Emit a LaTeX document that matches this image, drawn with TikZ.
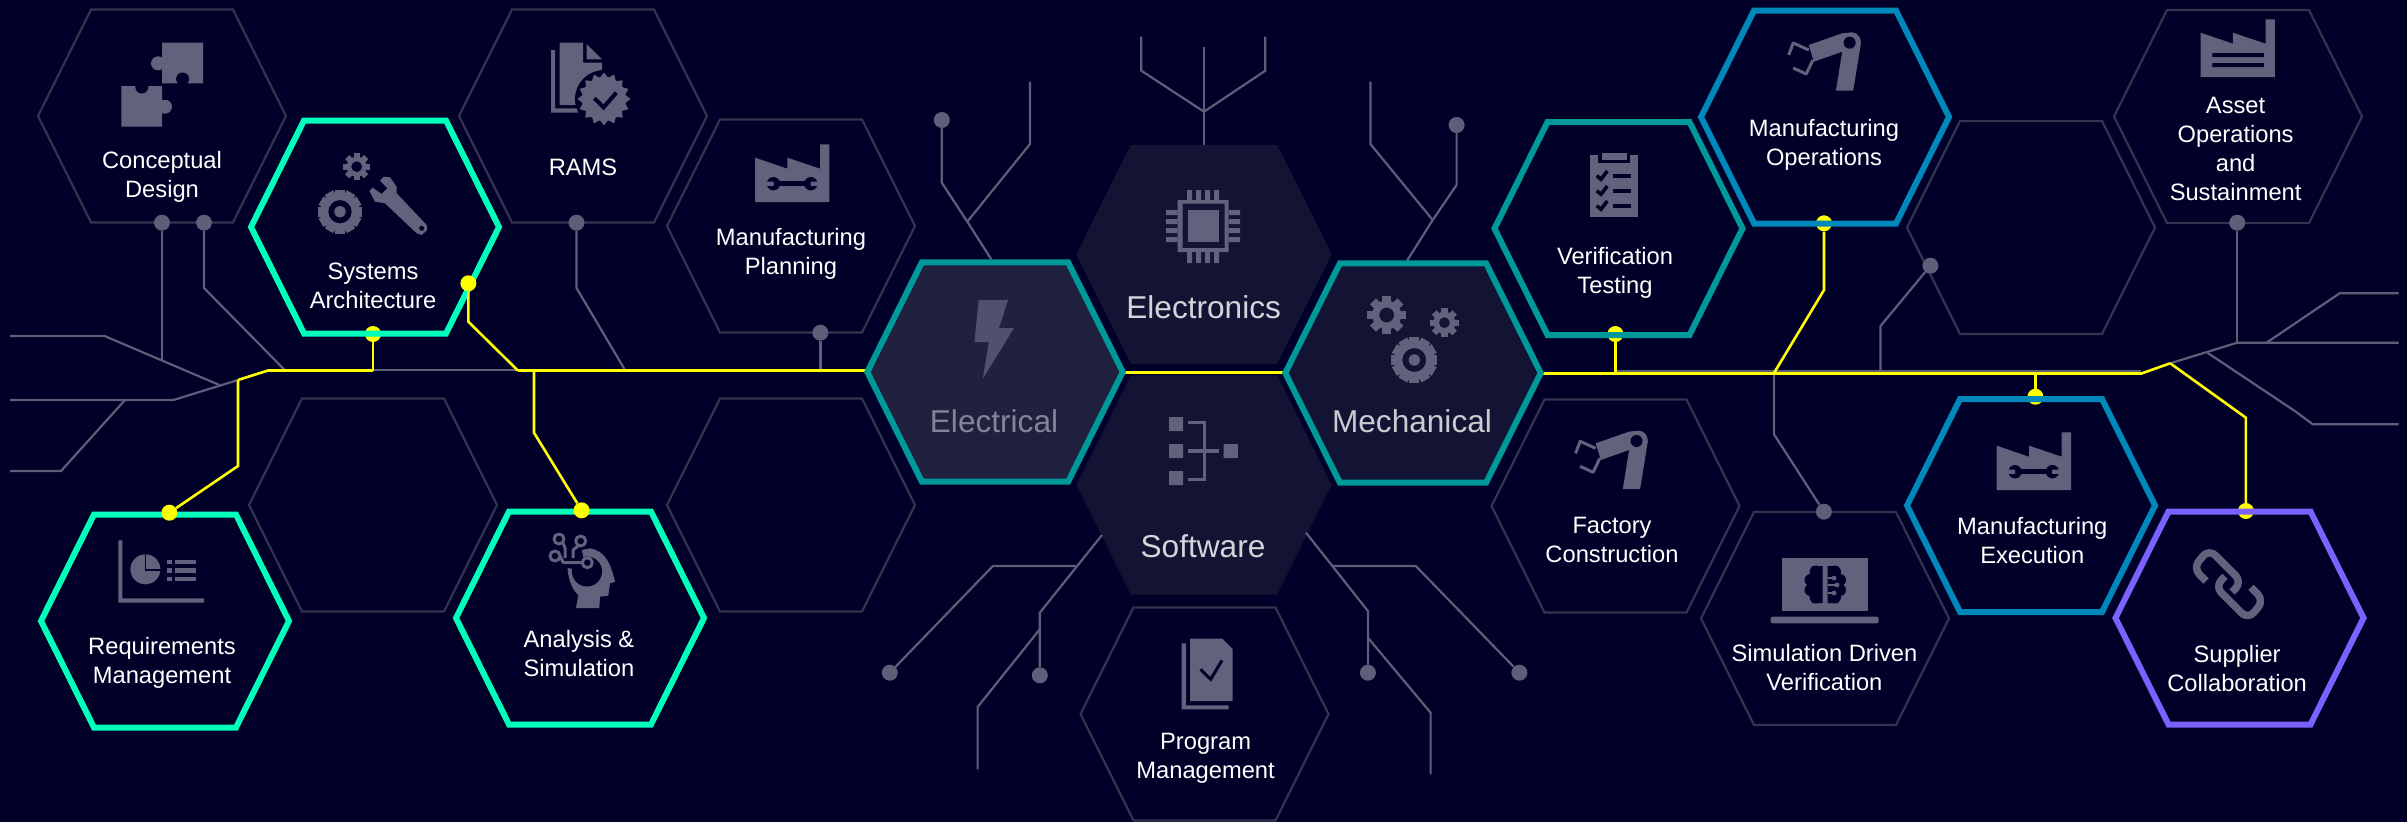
\documentclass[tikz,border=0pt]{standalone}
\usepackage{fontspec}
\setmainfont{Liberation Sans}

\definecolor{navybg}{HTML}{000028}
\definecolor{hexgray}{HTML}{34344F}
\definecolor{tracegray}{HTML}{5E5E78}
\definecolor{iconfill}{HTML}{62627D}
\definecolor{busyellow}{HTML}{FFFF00}
\definecolor{ringgreen}{HTML}{00FFBB}
\definecolor{ringteal}{HTML}{009999}
\definecolor{ringblue}{HTML}{0088BB}
\definecolor{ringpurple}{HTML}{7B61FF}
\definecolor{cellfill}{HTML}{131333}
\definecolor{cellbright}{HTML}{20203F}

\tikzset{
  hexcell/.pic={\path[pic actions] (-124,0) -- (-71,-106.5) -- (71,-106.5) -- (124,0) -- (71,106.5) -- (-71,106.5) -- cycle;},
  hexdim/.style={draw=hexgray, line width=2.2pt},
  hexring/.style={draw=#1, line width=6pt},
  trace/.style={draw=tracegray, line width=2.2pt},
  bus/.style={draw=busyellow, line width=2.6pt},
  pingray/.style={circle, fill=tracegray, inner sep=0pt, minimum size=16pt},
  pinbus/.style={circle, fill=busyellow, inner sep=0pt, minimum size=16pt},
  cellname/.style={text=white, align=center, font=\fontsize{23.7}{29}\selectfont},
  domainname/.style={align=center, font=\fontsize{31.6}{36}\selectfont},
  icon/.style={fill=iconfill},
  iconline/.style={draw=iconfill, line join=round},
  factorybody/.pic={\fill[icon] (0,0) -- (74.3,0) -- (74.3,-57.7) -- (65,-57.7) -- (65,-33.3) -- (32.3,-44.3) -- (32.3,-33.3) -- (0,-44.3) -- cycle;},
  factorywrench/.pic={
    \draw[navybg, line width=5pt] (18.3,-18.3) -- (55.7,-18.3);
    \fill[navybg] (18.3,-18.3) circle (6.7pt) (55.7,-18.3) circle (6.7pt);
    \fill[icon] (11,-20.5) rectangle (18.5,-16.1) (55.5,-20.5) rectangle (63,-16.1);
  },
  robotarm/.pic={
    \fill[icon] (-17.3,0) -- (0,0) -- (7.7,-47.4) .. controls (8,-52) and (5,-58) .. (-1,-58.4) -- (-11,-57.4) -- (-44.4,-45.7) -- (-39.3,-29) -- (-11,-39) -- cycle;
    \fill[navybg] (-3.6,-48) circle (6pt);
    \draw[iconline, line width=3pt] (-44.4,-40.7) -- (-60,-47.7) -- (-64.5,-35.7);
    \draw[iconline, line width=3pt] (-40.3,-30.7) -- (-47,-16.7) -- (-60,-22.7);
  },
}

% gear: x, y, tooth radius, body radius, hole radius, number of teeth
\newcommand{\cogwheel}[6]{
  \pgfmathsetmacro{\cogstep}{360/#6}
  \foreach \k in {1,...,#6}
    \fill[icon, shift={(#1,#2)}, rotate=\k*\cogstep] (-#3*0.22,#4-1) rectangle (#3*0.22,#3);
  \fill[icon, even odd rule] (#1,#2) circle (#4pt) circle (#5pt);
}

\begin{document}
\begin{tikzpicture}[x=1pt, y=-1pt]

\useasboundingbox (0,0) rectangle (2407,822);
\fill[navybg] (0,0) rectangle (2407,822);

\pic[hexdim] at (162,116) {hexcell};
\pic[hexdim] at (583,116) {hexcell};
\pic[hexdim] at (791,226) {hexcell};
\pic[hexdim] at (373,505) {hexcell};
\pic[hexdim] at (791,505) {hexcell};
\pic[hexdim] at (1204.5,714) {hexcell};
\pic[hexdim] at (1615.5,506) {hexcell};
\pic[hexdim] at (2031,227.5) {hexcell};
\pic[hexdim] at (2238,116.5) {hexcell};
\pic[hexdim] at (1825,618.5) {hexcell};

% middle block
\pic[fill=cellfill, scale=1.03] at (1204,254.5) {hexcell};
\pic[fill=cellfill, scale=1.03] at (1204,485) {hexcell};
\pic[draw=navybg, line width=15pt, scale=1.03] at (995,372) {hexcell};
\pic[draw=navybg, line width=15pt, scale=1.03] at (1413,373) {hexcell};

% gray wiring
\node[pingray] (pinConceptA) at (162,222.7) {};
\node[pingray] (pinConceptB) at (204,222.7) {};
\node[pingray] (pinRams) at (576.5,222.7) {};
\node[pingray] (pinPlanning) at (820.4,332.7) {};
\node[pingray] (pinElecL) at (941.8,120) {};
\node[pingray] (pinMechR) at (1456.6,125) {};
\node[pingray] (pinSoftA) at (1039.8,675.3) {};
\node[pingray] (pinSoftB) at (889.8,672.7) {};
\node[pingray] (pinSoftC) at (1367.9,672.7) {};
\node[pingray] (pinSoftD) at (1519.4,672.7) {};
\node[pingray] (pinSimDriven) at (1823.9,511.7) {};
\node[pingray] (pinFloat) at (1930.4,265.7) {};
\node[pingray] (pinAsset) at (2237.2,222.7) {};

\coordinate (stemA) at (162,360);
\coordinate (busRams) at (625,370);
\coordinate (busConcept) at (284.7,370);
\coordinate (busPlanning) at (820.4,370.7);
\coordinate (elecTop) at (991.3,259.3);
\coordinate (elecFork) at (967.3,221.7);
\coordinate (midTop) at (1204,145);
\coordinate (midFork) at (1204,111.7);
\coordinate (mechTop) at (1407,260.7);
\coordinate (mechFork) at (1432.7,220);
\coordinate (softL) at (1102,535);
\coordinate (softLsplit) at (1039.8,629.3);
\coordinate (softR) at (1306,532.7);
\coordinate (softRsplit) at (1367.9,637.7);
\coordinate (busOps) at (1774,373);
\coordinate (rightHub) at (2237.2,342.7);
\coordinate (rightSplit) at (2266.5,342.7);
\coordinate (rightLow) at (2207.3,352.7);
\coordinate (busEnd) at (2170.2,363.3);

\draw[trace] (pinConceptA) -- (stemA);
\draw[trace] (pinConceptB) -- (204,288) -- (busConcept);
\draw[trace] (10,336) -- (104.6,336) -- (219.4,385);
\draw[trace] (10,400) -- (173.5,400) -- (238,380);
\draw[trace] (125,400) -- (61,471) -- (10,471);
\draw[trace] (373,370) -- (518,370);
\draw[trace] (pinRams) -- (576.5,288) -- (busRams);
\draw[trace] (pinPlanning) -- (busPlanning);

\draw[trace] (elecTop) -- (elecFork) -- (941.8,182.7) -- (pinElecL);
\draw[trace] (elecFork) -- (1030,144) -- (1030,81.7);
\draw[trace] (midTop) -- (1204,46.7);
\draw[trace] (midFork) -- (1141.3,70.7) -- (1141.3,36.7);
\draw[trace] (midFork) -- (1265.3,70.7) -- (1265.3,36.7);
\draw[trace] (mechTop) -- (mechFork) -- (1456.6,185) -- (pinMechR);
\draw[trace] (mechFork) -- (1370.4,144) -- (1370.4,81.7);

\draw[trace] (softL) -- (1039.8,612.7) -- (pinSoftA);
\draw[trace] (1075.5,566) -- (992.9,566) -- (pinSoftB);
\draw[trace] (softLsplit) -- (977.6,707) -- (977.6,769.3);
\draw[trace] (softR) -- (1367.9,611) -- (pinSoftC);
\draw[trace] (1333,566) -- (1415.8,566) -- (pinSoftD);
\draw[trace] (softRsplit) -- (1430.6,712.7) -- (1430.6,774.3);

\draw[trace] (1615,371.5) -- (2141,371.5);
\draw[trace] (busOps) -- (1774,434.3) -- (pinSimDriven);
\draw[trace] (1880.5,372) -- (1880.5,326) -- (pinFloat);
\draw[trace] (pinAsset) -- (rightHub);
\draw[trace] (busEnd) -- (rightHub) -- (2398.7,342.7);
\draw[trace] (rightSplit) -- (2339.6,293.3) -- (2398.7,293.3);
\draw[trace] (rightLow) -- (2294.8,411) -- (2312.8,424.3) -- (2398.7,424.3);

% yellow bus, then the rings, some pins sit under them
\node[pinbus] (pinSystems) at (373,334) {};
\node[pinbus] (pinVerif) at (1615.4,334) {};
\node[pinbus] (pinOps) at (1824,223.3) {};
\node[pinbus] (pinExec) at (2035.4,396.7) {};
\node[pinbus] (pinSupplier) at (2245.9,511) {};

\coordinate (busLeft) at (238,380);
\coordinate (busSplit) at (268,370.5);
\coordinate (busTap) at (373,370.5);
\coordinate (busRight) at (518,370.7);
\coordinate (busAnalysis) at (534,370.7);
\coordinate (busElec) at (866,370.7);
\coordinate (busElecR) at (1125,372.7);
\coordinate (busMechL) at (1285,372.7);
\coordinate (busMechR) at (1541,373.5);
\coordinate (busVerif) at (1615.4,373.5);
\coordinate (busExec) at (2035.4,373.5);

\draw[bus] (busLeft) -- (busSplit) -- (busTap);
\draw[bus] (busTap) -- (pinSystems);
\draw[bus] (busRight) -- (busElec);
\draw[bus] (busElecR) -- (busMechL);
\draw[bus] (busMechR) -- (2141.4,373.5) -- (busEnd);
\draw[bus] (busVerif) -- (pinVerif);
\draw[bus] (busOps) -- (1824,290) -- (pinOps);
\draw[bus] (busExec) -- (pinExec);
\draw[bus] (busEnd) -- (2245.9,417.7) -- (pinSupplier);

\pic[hexring=ringgreen] at (375,227) {hexcell};
\pic[hexring=ringgreen] at (165,621) {hexcell};
\pic[hexring=ringgreen] at (580,618) {hexcell};
\pic[hexring=ringteal] at (1618.5,228.5) {hexcell};
\pic[hexring=ringblue] at (1825,117) {hexcell};
\pic[hexring=ringblue] at (2031,505.5) {hexcell};
\pic[hexring=ringpurple] at (2239.5,618) {hexcell};
\pic[fill=cellbright, draw=ringteal, line width=6pt, scale=1.03] at (995,372) {hexcell};
\pic[fill=cellfill, draw=ringteal, line width=6pt, scale=1.03] at (1413,373) {hexcell};

\node[pinbus] (pinSysRight) at (468.4,283.3) {};
\node[pinbus] (pinReq) at (169.4,512.7) {};
\node[pinbus] (pinAnalysis) at (581.6,510.3) {};
\draw[bus] (busRight) -- (468.4,321.7) -- (pinSysRight);
\draw[bus] (busLeft) -- (238,466) -- (pinReq);
\draw[bus] (busAnalysis) -- (534,432.7) -- (pinAnalysis);

% puzzle
\fill[icon] (162,42.7) rectangle (203,83.3) (158,63.3) circle (7pt);
\fill[navybg] (182.6,79) circle (6.5pt);
\fill[icon] (121.4,86) rectangle (162,126.7) (165,106.7) circle (7pt);
\fill[navybg] (141.8,87) circle (6.5pt);

% document with badge
\fill[icon] (559.7,42.7) -- (583,42.7) -- (583,62.5) -- (602,62.5) -- (602,105) -- (559.7,105) -- cycle;
\fill[icon] (586.7,44) -- (602,59.3) -- (586.7,59.3) -- cycle;
\fill[icon] (551,50) -- (555,50) -- (555,108.3) -- (579,108.3) -- (579,112.7) -- (551,112.7) -- cycle;
\fill[navybg] (604,99) circle (29pt);
\fill[icon] (604,99) circle (22pt);
\foreach \k in {0,22.5,...,337.5}
  \fill[icon, shift={(604,99)}, rotate=\k] (-5,-20) -- (0,-26.5) -- (5,-20) -- cycle;
\draw[navybg, line width=4pt] (594.4,98.3) -- (603.6,107.3) -- (616.3,92.7);

% gears and spanner
\cogwheel{356.7}{166.7}{13.5}{10}{5.5}{8}
\cogwheel{340}{211.7}{22}{16.7}{11.7}{12}
\fill[icon] (340,211.7) circle (5.7pt);
\fill[icon] (369.3,191) -- (372.7,187.7) -- (381.7,194) -- (387.3,188.3) -- (380,180.7) -- (384,176.7) -- (390,177.3) -- (396.7,186.7) -- (396.7,193.3) -- (426.7,225) -- (427.3,230) -- (421.7,235) -- (416.7,233.3) -- (385,203.3) -- (375,201.7) -- cycle;
\fill[navybg] (421.7,228.3) circle (2.5pt);

% factories
\pic at (755.1,202) {factorybody};
\pic at (755.1,202) {factorywrench};
\pic at (1996.7,490) {factorybody};
\pic at (1996.7,490) {factorywrench};
\pic at (2200.6,77) {factorybody};
\fill[navybg] (2212.4,53) rectangle (2263.9,57) (2212.4,63) rectangle (2263.9,67);

% chart and list
\fill[icon] (118.4,540.3) -- (122.4,540.3) -- (122.4,598.3) -- (204,598.3) -- (204,602.7) -- (118.4,602.7) -- cycle;
\fill[icon] (145.4,569.3) circle (15pt);
\draw[navybg, line width=1.5pt] (145.4,553) -- (145.4,570) -- (162,570);
\foreach \k in {562,570.5,578.8}{
  \fill[icon] (167.3,\k-2.2) rectangle (172.4,\k+2.2);
  \fill[icon] (174.5,\k-2.2) rectangle (196.4,\k+2.2);
}

% head
\fill[icon] (576,608) -- (599.3,608) -- (600,596.7) -- (608.3,595.7) -- (610,583.3) -- (615,581.7) .. controls (611,565) and (606,551) .. (590,548.3) -- (581.7,550) -- (587,571.5) -- (567.5,568) .. controls (568,578) and (572,590) .. (578.3,595) -- cycle;
\fill[navybg] (587,571.5) circle (15pt);
\draw[iconline, line width=3pt] (559,539) circle (5pt) (580.7,541) circle (5pt) (555,556) circle (5pt) (587.3,562.7) circle (5pt);
\draw[iconline, line width=3pt] (563,543) -- (565,548) -- (565,558);
\draw[iconline, line width=3pt] (578,546) -- (573,550) -- (573,558);
\draw[iconline, line width=3pt] (560,556) -- (563.3,562.7) -- (582,562.7);

% bolt
\fill[fill=iconfill!75!cellbright] (978.6,300) -- (1008,300) -- (999,328) -- (1014,328) -- (982.7,379) -- (988.8,342) -- (974.5,342) -- cycle;

% chip
\fill[icon, even odd rule] (1177.5,200) rectangle (1228.6,252) (1182.7,203.5) rectangle (1224.5,248);
\fill[icon] (1187.8,210) rectangle (1219.4,242);
\foreach \k in {1189.5,1198.5,1207.5,1216.5}
  \fill[icon] (\k-2.5,190) rectangle (\k+2.5,200) (\k-2.5,252) rectangle (\k+2.5,263);
\foreach \k in {212.5,221.5,230.5,239.5}
  \fill[icon] (1166,\k-2.5) rectangle (1177.5,\k+2.5) (1228.6,\k-2.5) rectangle (1240,\k+2.5);

% tree
\fill[icon] (1169,417) rectangle (1183,431) (1169,444) rectangle (1183,458) (1169,471) rectangle (1183,485) (1223.5,444) rectangle (1237.8,458);
\draw[iconline, line width=3.5pt, line join=miter] (1187.8,422.7) -- (1204.6,422.7) -- (1204.6,479.3) -- (1187.8,479.3);
\draw[iconline, line width=3.5pt] (1187.8,451) -- (1219.4,451);

% gears of the mechanical cell
\cogwheel{1386.7}{315}{19.4}{14.5}{7.5}{8}
\cogwheel{1444.4}{322.7}{14.5}{11}{5.5}{8}
\cogwheel{1414.3}{360}{23}{17.5}{12}{12}
\fill[icon] (1414.3,360) circle (5.7pt);

% program document
\fill[icon] (1190,638.7) -- (1222.4,638.7) -- (1232.7,649) -- (1232.7,701) -- (1190,701) -- cycle;
\fill[icon] (1181.6,643.3) -- (1186,643.3) -- (1186,705.3) -- (1228.6,705.3) -- (1228.6,709.3) -- (1181.6,709.3) -- cycle;
\draw[navybg, line width=3pt] (1200.5,669.3) -- (1210.7,679.3) -- (1222,660.3);

% clipboard
\fill[icon] (1590,155) rectangle (1637.7,216.7);
\fill[navybg] (1598.3,152) rectangle (1630,163.3);
\fill[icon] (1601.7,153.3) rectangle (1626.7,160);
\foreach \k in {0,15,30}{
  \draw[navybg, line width=3.5pt] (1596.7,175.7+\k) -- (1601,179.3+\k) -- (1607.3,171+\k);
  \fill[navybg] (1613.3,174.3+\k) rectangle (1631,178.3+\k);
}

% robot arms
\pic at (1853.2,90.7) {robotarm};
\pic at (1640.1,489) {robotarm};

% laptop and brain
\fill[icon] (1781.7,557.7) rectangle (1867.7,611);
\fill[icon, rounded corners=2pt] (1770.7,616.7) rectangle (1878.7,623.3);
\fill[navybg] (1812,566) rectangle (1822.7,603) (1816,572) circle (6.5pt) (1810.5,580) circle (6pt) (1810.5,590) circle (6pt) (1816,597) circle (6.5pt);
\fill[navybg] (1827.7,566) rectangle (1838,603) (1834.5,572) circle (6.5pt) (1840,580) circle (6pt) (1840,590) circle (6pt) (1834.5,597) circle (6.5pt);
\draw[iconline, line width=1.6pt] (1827.7,578) -- (1834,578) (1827.7,585) -- (1837,585) (1827.7,593) -- (1834,593);
\fill[icon] (1834,578) circle (2.4pt) (1837,585) circle (2.4pt) (1834,593) circle (2.4pt);

% chain
\draw[iconline, line width=7.5pt, rounded corners=9pt] (2206,581) -- (2193,568) -- (2209,549) -- (2242,582) -- (2232,592);
\draw[iconline, line width=7.5pt, rounded corners=9pt] (2251,587.4) -- (2264,600.4) -- (2248,619.4) -- (2215,586.4) -- (2225,576.4);

\node[cellname] (conceptual) at (162,177) {Conceptual\\Design};
\node[cellname] (systems) at (373,286) {Systems\\Architecture};
\node[cellname] (rams) at (583,167) {RAMS};
\node[cellname] (planning) at (791,254) {Manufacturing\\Planning};
\node[cellname] (requirements) at (162,662.5) {Requirements\\Management};
\node[cellname] (analysis) at (579,654) {Analysis \&\\Simulation};
\node[cellname] (program) at (1205.6,758.5) {Program\\Management};
\node[cellname] (verification) at (1615,272.5) {Verification\\Testing};
\node[cellname] (construction) at (1612,539.5) {Factory\\Construction};
\node[cellname] (operations) at (1824,144.5) {Manufacturing\\Operations};
\node[cellname] (asset) at (2235.6,149) {Asset\\Operations\\and\\Sustainment};
\node[cellname] (simulation) at (1824.4,668) {Simulation Driven\\Verification};
\node[cellname] (execution) at (2032.3,540.5) {Manufacturing\\Execution};
\node[cellname] (supplier) at (2237.1,668.5) {Supplier\\Collaboration};

\node[domainname, text=white!82!cellfill] (electronics) at (1203.6,307) {Electronics};
\node[domainname, text=white!82!cellfill] (software) at (1203,546.7) {Software};
\node[domainname, text=white!45!cellbright] (electrical) at (994,421) {Electrical};
\node[domainname, text=white!78!cellfill] (mechanical) at (1412,421) {Mechanical};

\end{tikzpicture}
\end{document}
